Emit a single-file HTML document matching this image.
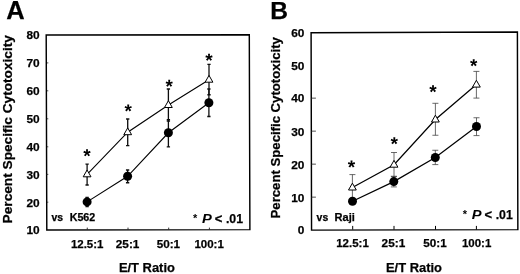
<!DOCTYPE html>
<html><head><meta charset="utf-8">
<style>
html,body{margin:0;padding:0;background:#fff;}
svg{display:block;will-change:transform;font-family:"Liberation Sans",sans-serif;font-weight:bold;fill:#000;}
text{stroke:#000;stroke-width:0.25px;}
</style></head><body>
<svg width="520" height="274" viewBox="0 0 520 274">
<rect width="520" height="274" fill="#fff"/>
<defs><filter id="soft" x="0" y="0" width="520" height="274" filterUnits="userSpaceOnUse"><feGaussianBlur stdDeviation="0.35"/></filter></defs>
<g filter="url(#soft)">
<g>
<text x="6.3" y="19" font-size="25.5">A</text>
<polygon points="46.2,34.9 249.3,34.7 249.9,229.6 46.8,229.9" fill="none" stroke="#000" stroke-width="1.45" stroke-linejoin="miter"/>
<path d="M87.25,229.4v-1.8" stroke="#000" stroke-width="0.8"/>
<path d="M128.0,229.4v-1.8" stroke="#000" stroke-width="0.8"/>
<path d="M168.7,229.4v-1.8" stroke="#000" stroke-width="0.8"/>
<path d="M209.4,229.4v-1.8" stroke="#000" stroke-width="0.8"/>
<text x="39.699999999999996" y="39" font-size="11.8" text-anchor="end" textLength="13.2" lengthAdjust="spacingAndGlyphs">80</text>
<text x="39.699999999999996" y="67" font-size="11.8" text-anchor="end" textLength="13.2" lengthAdjust="spacingAndGlyphs">70</text>
<text x="39.699999999999996" y="95" font-size="11.8" text-anchor="end" textLength="13.2" lengthAdjust="spacingAndGlyphs">60</text>
<text x="39.699999999999996" y="123" font-size="11.8" text-anchor="end" textLength="13.2" lengthAdjust="spacingAndGlyphs">50</text>
<text x="39.699999999999996" y="151" font-size="11.8" text-anchor="end" textLength="13.2" lengthAdjust="spacingAndGlyphs">40</text>
<text x="39.699999999999996" y="179" font-size="11.8" text-anchor="end" textLength="13.2" lengthAdjust="spacingAndGlyphs">30</text>
<text x="39.699999999999996" y="207" font-size="11.8" text-anchor="end" textLength="13.2" lengthAdjust="spacingAndGlyphs">20</text>
<text x="39.699999999999996" y="234" font-size="11.8" text-anchor="end" textLength="13.2" lengthAdjust="spacingAndGlyphs">10</text>
<path d="M46.7,62.9h1.6" stroke="#222" stroke-width="0.8"/>
<path d="M46.7,90.8h1.6" stroke="#222" stroke-width="0.8"/>
<path d="M46.7,118.8h1.6" stroke="#222" stroke-width="0.8"/>
<path d="M46.7,146.8h1.6" stroke="#222" stroke-width="0.8"/>
<path d="M46.7,174.4h1.6" stroke="#222" stroke-width="0.8"/>
<path d="M46.7,202.2h1.6" stroke="#222" stroke-width="0.8"/>
<text transform="translate(12.3,223.4) rotate(-90)" font-size="13.6" textLength="188.3" lengthAdjust="spacingAndGlyphs">Percent Specific Cytotoxicity</text>
<text x="70.9" y="247.7" font-size="11.8" textLength="32.6" lengthAdjust="spacingAndGlyphs">12.5:1</text>
<text x="115.8" y="247.7" font-size="11.8" textLength="23.6" lengthAdjust="spacingAndGlyphs">25:1</text>
<text x="156.7" y="247.7" font-size="11.8" textLength="23.4" lengthAdjust="spacingAndGlyphs">50:1</text>
<text x="194.4" y="247.7" font-size="11.8" textLength="29.4" lengthAdjust="spacingAndGlyphs">100:1</text>
<text x="118.9" y="272.4" font-size="13.5" textLength="56.0" lengthAdjust="spacingAndGlyphs">E/T Ratio</text>
<g stroke="#000" stroke-width="1.1" fill="none">
<polyline points="87.1,174.3 127.7,132.2 168.4,105.0 209.0,79.7"/>
<polyline points="87.1,201.9 127.6,176.3 168.4,132.75 208.9,102.75"/>
</g>
<path d="M87.10,164.20V185.00M85.45,164.20H88.75M85.45,185.00H88.75" stroke="#111" stroke-width="1.3" fill="none"/>
<path d="M127.70,119.00V145.60M126.05,119.00H129.35M126.05,145.60H129.35" stroke="#111" stroke-width="1.3" fill="none"/>
<path d="M168.40,89.00V121.00M166.75,89.00H170.05M166.75,121.00H170.05" stroke="#111" stroke-width="1.3" fill="none"/>
<path d="M209.00,64.30V94.75M207.35,64.30H210.65M207.35,94.75H210.65" stroke="#111" stroke-width="1.3" fill="none"/>
<path d="M87.10,197.30V206.50M85.45,197.30H88.75M85.45,206.50H88.75" stroke="#111" stroke-width="1.3" fill="none"/>
<path d="M127.60,170.00V182.75M125.95,170.00H129.25M125.95,182.75H129.25" stroke="#111" stroke-width="1.3" fill="none"/>
<path d="M168.40,119.60V146.90M166.75,119.60H170.05M166.75,146.90H170.05" stroke="#111" stroke-width="1.3" fill="none"/>
<path d="M208.90,89.00V116.50M207.25,89.00H210.55M207.25,116.50H210.55" stroke="#111" stroke-width="1.3" fill="none"/>
<g fill="#000">
<circle cx="87.1" cy="201.9" r="4.5"/>
<circle cx="127.6" cy="176.3" r="4.5"/>
<circle cx="168.4" cy="132.75" r="4.5"/>
<circle cx="208.9" cy="102.75" r="4.5"/>
</g>
<g fill="#fff" stroke="#000" stroke-width="1">
<polygon points="87.10,170.00 91.00,176.80 83.20,176.80"/>
<polygon points="127.70,127.90 131.60,134.70 123.80,134.70"/>
<polygon points="168.40,100.70 172.30,107.50 164.50,107.50"/>
<polygon points="209.00,75.40 212.90,82.20 205.10,82.20"/>
</g>
<path d="M492 1135 727 1239 795 1042 545 981 731 768 547 647 401 899 252 647 66 770 256 981 6 1042 74 1239 313 1135 295 1409H510Z" transform="translate(87.00,152.80) scale(0.0092,-0.0092) translate(-400.5,-1028)"/>
<path d="M492 1135 727 1239 795 1042 545 981 731 768 547 647 401 899 252 647 66 770 256 981 6 1042 74 1239 313 1135 295 1409H510Z" transform="translate(128.20,107.90) scale(0.0092,-0.0092) translate(-400.5,-1028)"/>
<path d="M492 1135 727 1239 795 1042 545 981 731 768 547 647 401 899 252 647 66 770 256 981 6 1042 74 1239 313 1135 295 1409H510Z" transform="translate(169.20,83.35) scale(0.0092,-0.0092) translate(-400.5,-1028)"/>
<path d="M492 1135 727 1239 795 1042 545 981 731 768 547 647 401 899 252 647 66 770 256 981 6 1042 74 1239 313 1135 295 1409H510Z" transform="translate(209.00,57.30) scale(0.0092,-0.0092) translate(-400.5,-1028)"/>
</g>
<g>
<text x="270.2" y="19" font-size="24.6">B</text>
<polygon points="311.1,32.7 517.4,32.0 517.85,229.6 311.55,230.1" fill="none" stroke="#000" stroke-width="1.45" stroke-linejoin="miter"/>
<path d="M352.7,229.6v-3.7" stroke="#000" stroke-width="1.0"/>
<path d="M394.0,229.6v-3.7" stroke="#000" stroke-width="1.0"/>
<path d="M435.5,229.6v-3.7" stroke="#000" stroke-width="1.0"/>
<path d="M476.4,229.6v-3.7" stroke="#000" stroke-width="1.0"/>
<text x="304.4" y="37" font-size="11.8" text-anchor="end" textLength="13.2" lengthAdjust="spacingAndGlyphs">60</text>
<text x="304.4" y="70" font-size="11.8" text-anchor="end" textLength="13.2" lengthAdjust="spacingAndGlyphs">50</text>
<text x="304.4" y="102" font-size="11.8" text-anchor="end" textLength="13.2" lengthAdjust="spacingAndGlyphs">40</text>
<text x="304.4" y="136" font-size="11.8" text-anchor="end" textLength="13.2" lengthAdjust="spacingAndGlyphs">30</text>
<text x="304.4" y="169" font-size="11.8" text-anchor="end" textLength="13.2" lengthAdjust="spacingAndGlyphs">20</text>
<text x="304.4" y="202" font-size="11.8" text-anchor="end" textLength="13.2" lengthAdjust="spacingAndGlyphs">10</text>
<text x="304.4" y="234" font-size="11.8" text-anchor="end" textLength="6.6" lengthAdjust="spacingAndGlyphs">0</text>
<path d="M311.6,98.15h4.3" stroke="#222" stroke-width="0.8"/>
<path d="M311.6,131.15h4.3" stroke="#222" stroke-width="0.8"/>
<path d="M311.6,164.15h4.3" stroke="#222" stroke-width="0.8"/>
<path d="M311.6,197.15h4.3" stroke="#222" stroke-width="0.8"/>
<text transform="translate(280.0,218.4) rotate(-90)" font-size="13.0" textLength="181.3" lengthAdjust="spacingAndGlyphs">Percent Specific Cytotoxicity</text>
<text x="336.2" y="247.3" font-size="11.8" textLength="32.6" lengthAdjust="spacingAndGlyphs">12.5:1</text>
<text x="381.6" y="247.3" font-size="11.8" textLength="23.6" lengthAdjust="spacingAndGlyphs">25:1</text>
<text x="423.3" y="247.3" font-size="11.8" textLength="23.4" lengthAdjust="spacingAndGlyphs">50:1</text>
<text x="461.9" y="247.3" font-size="11.8" textLength="29.4" lengthAdjust="spacingAndGlyphs">100:1</text>
<text x="386.0" y="272.0" font-size="13.5" textLength="56.0" lengthAdjust="spacingAndGlyphs">E/T Ratio</text>
<g stroke="#000" stroke-width="1.25" fill="none">
<polyline points="352.4,187.5 394.0,164.7 435.4,119.5 476.4,84.6"/>
<polyline points="352.5,201.25 393.8,181.6 435.3,157.5 476.5,126.5"/>
</g>
<path d="M352.40,174.60V200.40M349.40,174.60H355.40M349.40,200.40H355.40" stroke="#444" stroke-width="0.8" fill="none"/>
<path d="M394.00,152.50V176.60M391.00,152.50H397.00M391.00,176.60H397.00" stroke="#444" stroke-width="0.8" fill="none"/>
<path d="M435.40,103.30V135.25M432.40,103.30H438.40M432.40,135.25H438.40" stroke="#444" stroke-width="0.8" fill="none"/>
<path d="M476.40,71.40V98.10M473.40,71.40H479.40M473.40,98.10H479.40" stroke="#444" stroke-width="0.8" fill="none"/>
<path d="M352.50,199.50V203.00M349.50,199.50H355.50M349.50,203.00H355.50" stroke="#444" stroke-width="0.8" fill="none"/>
<path d="M393.80,176.25V186.90M390.80,176.25H396.80M390.80,186.90H396.80" stroke="#444" stroke-width="0.8" fill="none"/>
<path d="M435.30,150.25V164.60M432.30,150.25H438.30M432.30,164.60H438.30" stroke="#444" stroke-width="0.8" fill="none"/>
<path d="M476.50,117.75V135.60M473.50,117.75H479.50M473.50,135.60H479.50" stroke="#444" stroke-width="0.8" fill="none"/>
<g fill="#000">
<circle cx="352.5" cy="201.25" r="4.5"/>
<circle cx="393.8" cy="181.6" r="4.5"/>
<circle cx="435.3" cy="157.5" r="4.5"/>
<circle cx="476.5" cy="126.5" r="4.5"/>
</g>
<g fill="#fff" stroke="#000" stroke-width="1">
<polygon points="352.40,183.20 356.30,190.00 348.50,190.00"/>
<polygon points="394.00,160.40 397.90,167.20 390.10,167.20"/>
<polygon points="435.40,115.20 439.30,122.00 431.50,122.00"/>
<polygon points="476.40,80.30 480.30,87.10 472.50,87.10"/>
</g>
<path d="M492 1135 727 1239 795 1042 545 981 731 768 547 647 401 899 252 647 66 770 256 981 6 1042 74 1239 313 1135 295 1409H510Z" transform="translate(351.50,164.05) scale(0.0092,-0.0092) translate(-400.5,-1028)"/>
<path d="M492 1135 727 1239 795 1042 545 981 731 768 547 647 401 899 252 647 66 770 256 981 6 1042 74 1239 313 1135 295 1409H510Z" transform="translate(394.30,140.70) scale(0.0092,-0.0092) translate(-400.5,-1028)"/>
<path d="M492 1135 727 1239 795 1042 545 981 731 768 547 647 401 899 252 647 66 770 256 981 6 1042 74 1239 313 1135 295 1409H510Z" transform="translate(433.00,88.70) scale(0.0092,-0.0092) translate(-400.5,-1028)"/>
<path d="M492 1135 727 1239 795 1042 545 981 731 768 547 647 401 899 252 647 66 770 256 981 6 1042 74 1239 313 1135 295 1409H510Z" transform="translate(473.70,62.70) scale(0.0092,-0.0092) translate(-400.5,-1028)"/>
</g>
<text x="51.5" y="220.6" font-size="10.4" textLength="11.6" lengthAdjust="spacingAndGlyphs">vs</text>
<text x="69.7" y="220.6" font-size="10.4" textLength="25.6" lengthAdjust="spacingAndGlyphs">K562</text>
<text x="316.6" y="221.4" font-size="10.4" textLength="11.6" lengthAdjust="spacingAndGlyphs">vs</text>
<text x="334.5" y="221.4" font-size="10.4" textLength="20.3" lengthAdjust="spacingAndGlyphs">Raji</text>
<text x="192.9" y="222.20" font-size="11" style="stroke:none">*</text>
<text x="202.00" y="223.4" font-size="13.3" font-style="italic" textLength="9.8" lengthAdjust="spacingAndGlyphs" style="stroke:none">P</text>
<text x="214.8" y="223.4" font-size="13">&lt;</text>
<text x="225.9" y="223.4" font-size="13.3" textLength="17.1" lengthAdjust="spacingAndGlyphs">.01</text>
<text x="462.7" y="217.95" font-size="11" style="stroke:none">*</text>
<text x="471.80" y="219.15" font-size="13.3" font-style="italic" textLength="9.8" lengthAdjust="spacingAndGlyphs" style="stroke:none">P</text>
<text x="484.6" y="219.15" font-size="13">&lt;</text>
<text x="495.7" y="219.15" font-size="13.3" textLength="17.1" lengthAdjust="spacingAndGlyphs">.01</text>
</g>
</svg>
</body></html>
